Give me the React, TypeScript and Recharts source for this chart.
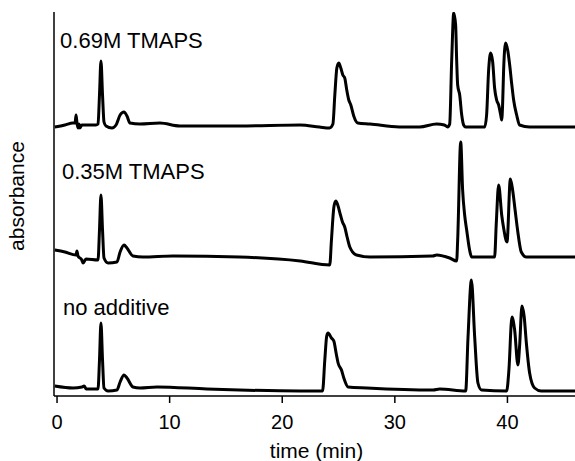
import React from "react";
import {
  LineChart,
  Line,
  XAxis,
  YAxis,
  ReferenceDot,
  Label,
} from "recharts";

// [time (min), absorbance (a.u., stacked)]
const trace069: [number, number][] = [
  [-0.2, 2.69], [0.7, 2.71], [1.4, 2.73], [1.6, 2.73], [1.69, 2.81], [1.77, 2.73],
  [1.86, 2.68], [1.95, 2.72], [2.04, 2.68], [2.2, 2.71], [3.45, 2.71], [3.64, 2.72],
  [3.77, 3.01], [3.9, 3.35], [4.04, 3.01], [4.17, 2.74], [4.35, 2.7], [4.88, 2.68],
  [5.24, 2.71], [5.6, 2.81], [5.95, 2.84], [6.21, 2.8], [6.48, 2.73], [7.36, 2.72],
  [9.14, 2.73], [10.9, 2.7], [16.2, 2.7], [21.6, 2.71], [23.3, 2.69], [24.2, 2.68],
  [24.5, 2.72], [24.67, 3.01], [24.85, 3.28], [25.02, 3.33], [25.2, 3.28], [25.38, 3.21],
  [25.55, 3.18], [25.73, 3.06], [25.91, 2.96], [26.09, 2.91], [26.35, 2.8], [26.7, 2.73],
  [27.8, 2.72], [30.4, 2.69], [32.2, 2.69], [33.7, 2.72], [34.4, 2.71], [34.69, 2.69],
  [34.87, 2.72], [35.05, 3.36], [35.23, 3.83], [35.4, 3.71], [35.49, 3.36], [35.58, 3.11],
  [35.76, 3.01], [35.94, 2.81], [36.11, 2.71], [36.29, 2.69], [37.98, 2.69], [38.15, 2.81],
  [38.33, 3.26], [38.51, 3.43], [38.69, 3.34], [38.86, 3.08], [39.04, 2.96], [39.22, 2.91],
  [39.4, 2.81], [39.49, 2.76], [39.57, 2.91], [39.66, 3.26], [39.84, 3.53], [40.02, 3.46],
  [40.2, 3.31], [40.37, 3.13], [40.55, 2.96], [40.82, 2.81], [41.08, 2.71], [41.97, 2.69],
  [46, 2.69],
];

const trace035: [number, number][] = [
  [-0.2, 1.46], [0.7, 1.44], [1.69, 1.41], [1.77, 1.45], [1.86, 1.4], [2.2, 1.36],
  [2.31, 1.33], [2.57, 1.37], [3.64, 1.36], [3.77, 1.66], [3.9, 2.01], [4.04, 1.66],
  [4.17, 1.38], [4.53, 1.33], [5.32, 1.34], [5.6, 1.44], [5.95, 1.51], [6.21, 1.48],
  [6.74, 1.4], [7.63, 1.39], [10.3, 1.4], [16.2, 1.39], [21.6, 1.35], [24.22, 1.31],
  [24.37, 1.56], [24.6, 1.9], [24.76, 1.95], [24.93, 1.91], [25.17, 1.81], [25.35, 1.74],
  [25.55, 1.69], [25.76, 1.59], [26.0, 1.49], [26.59, 1.41], [27.8, 1.39], [33.36, 1.4],
  [33.72, 1.41], [34.87, 1.38], [35.49, 1.35], [35.58, 1.56], [35.85, 2.54], [36.02, 2.06],
  [36.2, 1.81], [36.38, 1.66], [36.64, 1.46], [36.82, 1.39], [38.86, 1.39], [39.01, 1.73],
  [39.22, 2.11], [39.49, 1.81], [39.66, 1.68], [39.96, 1.54], [40.26, 2.17], [40.46, 2.06],
  [40.68, 1.86], [40.9, 1.66], [41.23, 1.44], [41.68, 1.39], [46, 1.39],
];

const traceNone: [number, number][] = [
  [-0.2, 0.1], [1.42, 0.08], [2.22, 0.09], [2.4, 0.1], [2.6, 0.07], [2.93, 0.07],
  [3.64, 0.07], [3.77, 0.36], [3.9, 0.73], [4.04, 0.36], [4.17, 0.08], [4.53, 0.05],
  [5.32, 0.06], [5.6, 0.14], [5.95, 0.21], [6.21, 0.18], [6.74, 0.09], [7.36, 0.08],
  [8.87, 0.09], [13.3, 0.07], [16.2, 0.06], [21.6, 0.05], [23.58, 0.05], [23.78, 0.36],
  [23.95, 0.6], [24.07, 0.63], [24.37, 0.58], [24.58, 0.55], [24.8, 0.42], [24.96, 0.33],
  [25.26, 0.26], [25.5, 0.17], [25.85, 0.09], [27.5, 0.08], [33.4, 0.06], [33.98, 0.07],
  [36.29, 0.05], [36.5, 0.59], [36.8, 1.16], [37.09, 0.59], [37.38, 0.13], [37.7, 0.06],
  [39.93, 0.05], [40.13, 0.26], [40.4, 0.79], [40.64, 0.66], [40.93, 0.31], [41.08, 0.5],
  [41.29, 0.9], [41.48, 0.8], [41.68, 0.53], [41.97, 0.23], [42.41, 0.08], [43.0, 0.05],
  [46, 0.05],
];

const traceNames = ["0.69M TMAPS", "0.35M TMAPS", "no additive"];
// where each trace name sits: [time, absorbance]
const nameAnchors: [number, number][] = [
  [0.27, 3.56],
  [0.44, 2.25],
  [0.53, 0.885],
];
const xTicks = [0, 10, 20, 30, 40];

const FONT = "'Liberation Sans', Arial, Helvetica, sans-serif";

const toPoints = (tr: [number, number][]) => tr.map(([t, v]) => ({ t, v }));
const traces = [trace069, trace035, traceNone].map(toPoints);

export default function App() {
  return (
    <div style={{ position: "absolute", left: 0, top: 0, background: "#fff" }}>
      <LineChart
        width={575}
        height={461}
        margin={{ top: 12, right: 0, bottom: 0, left: 0 }}
        style={{ fontFamily: FONT }}
      >
        <XAxis
          dataKey="t"
          type="number"
          domain={[-0.27, 46]}
          ticks={xTicks}
          allowDataOverflow
          height={65}
          stroke="#000"
          strokeWidth={1.5}
          tickSize={7}
          tickMargin={12}
          tick={{ fill: "#000", fontSize: 20, fontFamily: FONT }}
        >
          <Label
            value="time (min)"
            position="insideBottom"
            offset={3}
            dx={2}
            fill="#000"
            fontSize={21}
            fontFamily={FONT}
          />
        </XAxis>
        <YAxis
          type="number"
          domain={[0, 3.84]}
          allowDataOverflow
          width={54}
          stroke="#000"
          strokeWidth={1.5}
          tick={false}
          tickLine={false}
        >
          <Label
            content={() => (
              <text
                x={24}
                y={196}
                transform="rotate(-90 24 196)"
                textAnchor="middle"
                fill="#000"
                fontSize={21}
                fontFamily={FONT}
              >
                absorbance
              </text>
            )}
          />
        </YAxis>
        {traces.map((d, i) => (
          <Line
            key={traceNames[i]}
            data={d}
            dataKey="v"
            type="monotone"
            stroke="#000"
            strokeWidth={3}
            dot={false}
            activeDot={false}
            isAnimationActive={false}
          />
        ))}
        {traceNames.map((name, i) => (
          <ReferenceDot
            key={name}
            x={nameAnchors[i][0]}
            y={nameAnchors[i][1]}
            r={0}
            fill="none"
            stroke="none"
            label={{
              value: name,
              position: "right",
              offset: 0,
              fill: "#000",
              fontSize: 22,
              fontFamily: FONT,
            }}
          />
        ))}
      </LineChart>
    </div>
  );
}
